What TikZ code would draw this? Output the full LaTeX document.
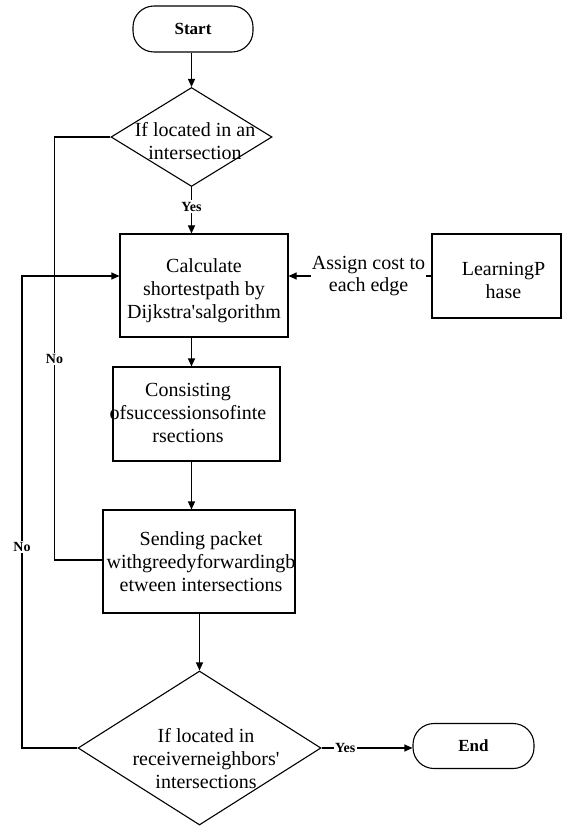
\documentclass[tikz,border=0pt]{standalone}
\usepackage{fontspec}
\setmainfont{Liberation Serif}
\usetikzlibrary{shapes.geometric,arrows.meta}
\tikzset{
  ln/.style={line width=1.1pt},
  arr/.style={ln,-{Triangle[length=8pt,width=7pt]}},
  boxshape/.style={draw,ln,rectangle,inner sep=0pt},
  termshape/.style={draw,ln,rectangle,rounded corners=21pt,inner sep=0pt,font=\fontsize{17}{20}\selectfont\bfseries},
  decshape/.style={draw,ln,diamond,inner sep=0pt},
  txt/.style={align=center,inner sep=0pt,font=\fontsize{20}{23}\selectfont},
  lbl/.style={fill=white,inner sep=1.5pt,font=\fontsize{14}{16}\selectfont\bfseries},
  edgelbl/.style={fill=white,inner sep=1pt,align=center,font=\fontsize{20}{22}\selectfont}
}
\begin{document}
\begin{tikzpicture}[x=1pt,y=-1pt]
\fill[white] (0,0) rectangle (562,826);
\useasboundingbox (0,0) rectangle (562,826);
% shapes
\node[termshape,minimum width=120pt,minimum height=46pt] (start) at (193,29) {Start};
\node[decshape,minimum width=161pt,minimum height=99pt] (d1) at (191.5,137) {};
\node[boxshape,minimum width=168pt,minimum height=103pt] (b1) at (204,285.5) {};
\node[boxshape,minimum width=129pt,minimum height=84pt] (lp) at (496.5,276) {};
\node[boxshape,minimum width=167pt,minimum height=94pt] (b2) at (196.5,414) {};
\node[boxshape,minimum width=192pt,minimum height=103pt] (b3) at (199,561.5) {};
\node[decshape,minimum width=243pt,minimum height=154pt] (d2) at (199.5,748) {};
\node[termshape,minimum width=121pt,minimum height=45pt] (endn) at (473.5,746) {End};
% texts
\node[txt] (t1) at (195,141) {If located in an\\intersection};
\node[txt] (t2) at (204,291) {Calculate\\shortestpath by\\Dijkstra\textquotesingle salgorithm};
\node[txt] (t3) at (503.5,280) {LearningP\\hase};
\node[txt] (t4) at (188,413) {Consisting\\ofsuccessionsofinte\\rsections};
\node[txt] (t5) at (201,562) {Sending packet\\withgreedyforwardingb\\etween intersections};
\node[txt] (t6) at (206,759) {If located in\\receiverneighbors\textquotesingle\\intersections};
% helper coordinates
\coordinate (oc) at (22,276);
\coordinate (ic) at (54.5,560);
% connectors
\draw[arr] (d1.north |- start.south) -- (d1.north);
\draw[arr] (d1.south) -- node[lbl,pos=0.42] (yes1) {Yes} (d1.south |- b1.north);
\draw[arr] (lp.west) -- node[edgelbl,pos=0.44] (assign) {Assign cost to\\each edge} (b1.east |- lp.west);
\draw[arr] (d1.south |- b1.south) -- (d1.south |- b2.north);
\draw[arr] (d1.south |- b2.south) -- (d1.south |- b3.north);
\draw[arr] (d2.north |- b3.south) -- (d2.north);
\draw[arr] (d2.east) -- node[lbl,pos=0.26] (yes2) {Yes} (endn.west |- d2.east);
\draw[arr] (d2.west) -| (oc) -- (b1.west |- oc);
\draw[ln] (d1.west) -| (ic) -- (b3.west |- ic);
\node[lbl] (no1) at (54.5,359) {No};
\node[lbl] (no2) at (22,547) {No};
\end{tikzpicture}
\end{document}
